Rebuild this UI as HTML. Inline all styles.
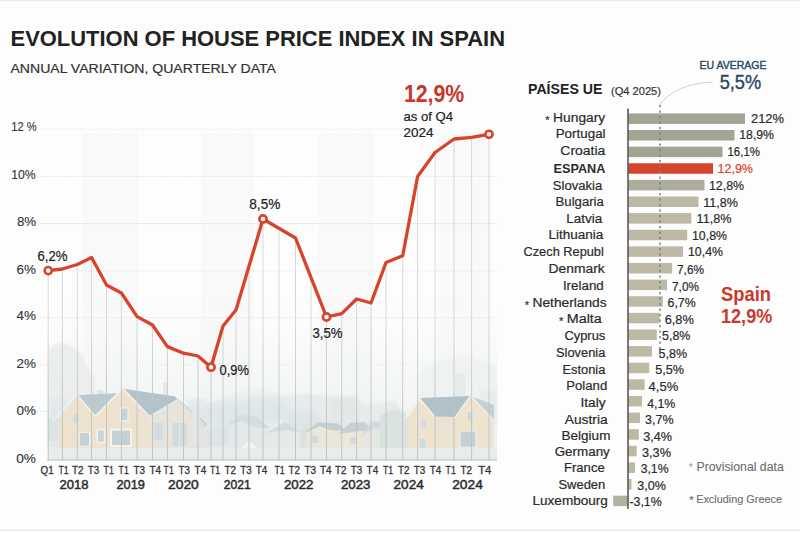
<!DOCTYPE html>
<html><head><meta charset="utf-8">
<style>
html,body{margin:0;padding:0;background:#fdfdfd;}
body{width:800px;height:533px;overflow:hidden;position:relative;}
svg{position:absolute;left:0;top:0;display:block;}
text{font-family:"Liberation Sans",sans-serif;}
</style></head><body>
<svg width="800" height="533" viewBox="0 0 800 533">
<defs>
<linearGradient id="sky" x1="0" y1="0" x2="0" y2="1">
<stop offset="0" stop-color="#f4f6f6" stop-opacity="0"/>
<stop offset="0.5" stop-color="#f1f3f3" stop-opacity="0.6"/>
<stop offset="1" stop-color="#ebefee" stop-opacity="1"/>
</linearGradient>
<linearGradient id="dl" gradientUnits="userSpaceOnUse" x1="0" y1="320" x2="0" y2="420"><stop offset="0" stop-color="#d3d6d6"/><stop offset="1" stop-color="#bcc1c1"/></linearGradient>
<filter id="mist" x="-10%" y="-10%" width="120%" height="120%"><feGaussianBlur stdDeviation="1.6"/></filter>
<filter id="soft" x="-10%" y="-10%" width="120%" height="120%"><feGaussianBlur stdDeviation="0.5"/></filter>
</defs>
<rect x="0" y="0" width="800" height="533" fill="#fdfdfd"/>
<rect x="0" y="0" width="800" height="1.2" fill="#eeeeee"/>
<rect x="0" y="529.6" width="800" height="1.4" fill="#e9e9e9"/>

<rect x="83" y="133" width="55" height="327" fill="#f9f9f9"/>
<rect x="201" y="133" width="52" height="327" fill="#f9f9f9"/>
<rect x="319" y="133" width="54" height="327" fill="#f9f9f9"/>
<rect x="437" y="133" width="54" height="327" fill="#f9f9f9"/>
<line x1="40" y1="129.2" x2="398" y2="129.2" stroke="#dedede" stroke-width="0.8" stroke-dasharray="1.5 1.5"/>
<line x1="40" y1="176.5" x2="497" y2="176.5" stroke="#dedede" stroke-width="0.8" stroke-dasharray="1.5 1.5"/>
<line x1="40" y1="223.7" x2="497" y2="223.7" stroke="#e4e4e4" stroke-width="0.9"/>
<line x1="40" y1="270.8" x2="497" y2="270.8" stroke="#dedede" stroke-width="0.8" stroke-dasharray="1.5 1.5"/>
<line x1="40" y1="317.5" x2="497" y2="317.5" stroke="#dedede" stroke-width="0.8" stroke-dasharray="1.5 1.5"/>
<line x1="40" y1="364.8" x2="497" y2="364.8" stroke="#dedede" stroke-width="0.8" stroke-dasharray="1.5 1.5"/>
<line x1="40" y1="411.5" x2="497" y2="411.5" stroke="#dedede" stroke-width="0.8" stroke-dasharray="1.5 1.5"/>
<g id="houses" opacity="1">
<rect x="48" y="300" width="449" height="160" fill="url(#sky)"/>
<g filter="url(#mist)">
<path d="M48 350 Q62 335 80 352 L95 380 L96 420 L48 420Z" fill="#eceeee"/>
<path d="M225 398 Q250 382 280 394 L300 400 L300 430 L225 430Z" fill="#edf0f0"/>
<path d="M420 372 Q450 350 480 360 L497 366 L497 400 L420 400Z" fill="#f0f2f2"/>
<path d="M48 400 L60 396 L70 402 L70 448 L48 448Z" fill="#e3e9ea"/>
<path d="M186 400 L200 398 L212 402 L225 397 L240 399 L255 396 L285 396 L300 394 L330 396 L350 397 L370 405 L395 400 L406 415 L406 448 L186 448Z" fill="#e6ebec"/>
<path d="M288 409.5 L312 409.5 L322 422 L322 448 L288 448Z" fill="#dfe6e7"/>
<path d="M332 396.5 L358 396.5 L360 448 L332 448Z" fill="#e2e8e8"/>
<path d="M200 410 L215 403 L235 405 L250 398 L275 400 L290 408 L300 420 L200 425Z" fill="#e0e7e9"/>
<path d="M300 430 L312 423 L330 422 L345 432 L360 426 L372 421 L386 430 L392 420 L402 412 L410 420 L410 448 L300 448Z" fill="#d9e1e2"/>
<path d="M308 434 L330 431 L330 447 L308 447Z" fill="#ebe5d6"/>
<path d="M345 434 L362 434 L362 447 L345 447Z" fill="#eae4d5"/>
<path d="M366 436 L384 434 L384 447 L366 447Z" fill="#e6e6de"/>
<path d="M242 447 Q249 434 257 447Z" fill="#f4f5f4"/>
<path d="M435 405 L445 398 L455 400 L460 412 L440 415Z" fill="#e6ebec"/>
<rect x="480" y="390" width="17" height="35" fill="#e7ecec"/>
<path d="M205 430 L225 424 L240 430 L240 447 L205 447Z" fill="#dde4e5"/>
</g>
<g filter="url(#soft)">
<path d="M306 448 L306 432 L318 423 L336 424 L345 431 L345 448Z" fill="#e9e6da"/>
<path d="M304 433 L318 422.5 L338 423.5 L347 431 L330 430 L320 426Z" fill="#c2ced2"/>
<path d="M340 448 L340 433 L350 424 L362 423 L372 432 L372 448Z" fill="#ece7d9"/>
<path d="M338 434 L350 423 L364 422 L374 432 L360 431Z" fill="#c6d1d5"/>
<path d="M362 448 L362 436 L374 422 L388 424 L388 448Z" fill="#e6e7e1"/>
<path d="M360 437 L374 421 L390 423 L386 430 L374 428Z" fill="#d0d9db"/>
<rect x="387" y="412" width="14" height="36" fill="#dfe5e5"/>
<rect x="391" y="408" width="9" height="6" fill="#e4e8e8"/>
<path d="M228 448 L228 425 L240 416 L258 418 L268 428 L268 448Z" fill="#e3e8e8"/>
<path d="M226 426 L240 415 L258 417 L270 428 L256 428 L242 421Z" fill="#d5dde0"/>
<path d="M268 448 L268 432 L285 424 L300 432 L300 448Z" fill="#e5e9e7"/>
<path d="M266 433 L285 422 L302 433 L286 430Z" fill="#d3dcde"/>
<path d="M242 448 Q249 436 257 448Z" fill="#f3f4f3"/>
<rect x="312" y="436" width="6" height="7" fill="#d2dadc"/>
<rect x="350" y="437" width="6" height="7" fill="#d4dcdd"/>
</g>
<rect x="48" y="419" width="14" height="22" fill="#d9e4e7"/>
<rect x="48" y="419.7" width="11" height="12" fill="#d8e3e7"/>
<rect x="97" y="390" width="6.5" height="6" fill="#e1e6e6"/>
<rect x="163" y="382.4" width="4.5" height="12" fill="#e5e9e9"/>
<path d="M149.3 416.5 L177 400.5 L205 425 L205 448 L149.3 448Z" fill="#e6e4dc"/>
<path d="M58 421 L76.9 395.2 L95 416.5 L122.7 388.8 L149.3 416.5 L149.3 448 L58 448Z" fill="#ede2cf"/>
<path d="M76.9 395.2 L118 393 L95 416.5Z" fill="#bccad0"/>
<path d="M122.7 388.8 L174.8 396.3 L177 400.5 L149.3 416.5Z" fill="#b3c3c9"/>
<path d="M174.8 396.3 L207 424 L205 427 L177 401Z" fill="#bfccd0"/>
<path d="M52 421.5 L76.9 394.6 L95 416" fill="none" stroke="#f2f1ea" stroke-width="1.6"/>
<path d="M95 416.5 L122.7 388.3 L149.5 416.5" fill="none" stroke="#f2f1ea" stroke-width="1.7"/>
<path d="M149.3 416.5 L177 400 L205 425" fill="none" stroke="#eeeeea" stroke-width="1.4"/>
<rect x="78.5" y="431.8" width="11.8" height="15" fill="#f3f1ea"/><rect x="79.8" y="433" width="9.2" height="12.6" fill="#c4d1d7"/>
<rect x="96.6" y="428.8" width="8.6" height="14.5" fill="#f4f2eb"/><rect x="98" y="430.3" width="5.8" height="11.5" fill="#cad5d9"/>
<rect x="110" y="428.5" width="22" height="18.5" fill="#f5f3ec"/><rect x="112" y="430.6" width="18" height="14.4" fill="#c3d0d5"/>
<line x1="121" y1="430.6" x2="121" y2="445" stroke="#d6dee1" stroke-width="0.8"/>
<rect x="73.7" y="414.4" width="4.5" height="8.5" fill="#d0d9dc"/>
<rect x="119.8" y="407.3" width="8.8" height="14" fill="#f3f1ea"/><rect x="121" y="408.6" width="6.4" height="11.5" fill="#c8d3d8"/>
<rect x="153.5" y="423" width="9.5" height="17" fill="#d3dbde"/>
<rect x="172.7" y="423" width="13.8" height="23" fill="#d1dadd"/>
<line x1="179.6" y1="423" x2="179.6" y2="446" stroke="#e4e9ea" stroke-width="0.9"/>
<rect x="192" y="405" width="8" height="38" fill="#e2e8e9"/>
<rect x="455" y="373.4" width="10" height="23" fill="#e6eaea"/>
<path d="M380 416 L392 410 L406 414 L406 448 L380 448Z" fill="#d9e1e1"/>
<path d="M408 417.5 L420 400.6 L434 416.6 L455.7 417 L470.7 396 L493.5 419.4 L493.5 448 L408 448Z" fill="#eee3cf"/>
<path d="M434 416.6 L455.7 417 L455.7 448 L434 448Z" fill="#ebe2d2"/>
<path d="M420 398 L470.7 396 L455.7 417 L434 416.6Z" fill="#b0c1c7"/>
<path d="M470.7 396 L494 405 L494 421 Z" fill="#c3d0d4"/>
<path d="M404 419 L420 399 L435 417" fill="none" stroke="#f1f0e8" stroke-width="1.5"/>
<path d="M454 419 L470.7 395.5 L494 421" fill="none" stroke="#f1f0e8" stroke-width="1.5"/>
<rect x="459.5" y="430.5" width="17" height="17" fill="#f2f0e8"/><rect x="460.6" y="431.6" width="14.8" height="15" fill="#c3d0d6"/>
<rect x="420" y="439" width="5.6" height="8.5" fill="#d0d9dc"/>
<rect x="421" y="419.4" width="4.6" height="8.5" fill="#d3dbdd"/>
<rect x="467.9" y="411.9" width="4.6" height="8.4" fill="#cdd7da"/>
<rect x="48" y="448" width="449" height="12" fill="#e7ede9"/>
</g>
<line x1="48.2" y1="270.6" x2="48.2" y2="460" stroke="url(#dl)" stroke-width="0.9"/>
<line x1="62.4" y1="269.0" x2="62.4" y2="460" stroke="url(#dl)" stroke-width="0.9"/>
<line x1="77.3" y1="264.5" x2="77.3" y2="460" stroke="url(#dl)" stroke-width="0.9"/>
<line x1="91.6" y1="257.5" x2="91.6" y2="460" stroke="url(#dl)" stroke-width="0.9"/>
<line x1="106.5" y1="285.0" x2="106.5" y2="460" stroke="url(#dl)" stroke-width="0.9"/>
<line x1="121.4" y1="293.0" x2="121.4" y2="460" stroke="url(#dl)" stroke-width="0.9"/>
<line x1="137.1" y1="316.6" x2="137.1" y2="460" stroke="url(#dl)" stroke-width="0.9"/>
<line x1="152.5" y1="325.0" x2="152.5" y2="460" stroke="url(#dl)" stroke-width="0.9"/>
<line x1="167.4" y1="346.6" x2="167.4" y2="460" stroke="url(#dl)" stroke-width="0.9"/>
<line x1="183.5" y1="353.2" x2="183.5" y2="460" stroke="url(#dl)" stroke-width="0.9"/>
<line x1="198" y1="356.0" x2="198" y2="460" stroke="url(#dl)" stroke-width="0.9"/>
<line x1="211" y1="367.2" x2="211" y2="460" stroke="url(#dl)" stroke-width="0.9"/>
<line x1="223" y1="326.0" x2="223" y2="460" stroke="url(#dl)" stroke-width="0.9"/>
<line x1="236" y1="310.0" x2="236" y2="460" stroke="url(#dl)" stroke-width="0.9"/>
<line x1="249" y1="266.2" x2="249" y2="460" stroke="url(#dl)" stroke-width="0.9"/>
<line x1="263" y1="219.0" x2="263" y2="460" stroke="url(#dl)" stroke-width="0.9"/>
<line x1="279" y1="228.4" x2="279" y2="460" stroke="url(#dl)" stroke-width="0.9"/>
<line x1="295.5" y1="238.0" x2="295.5" y2="460" stroke="url(#dl)" stroke-width="0.9"/>
<line x1="311" y1="277.5" x2="311" y2="460" stroke="url(#dl)" stroke-width="0.9"/>
<line x1="326.5" y1="317.0" x2="326.5" y2="460" stroke="url(#dl)" stroke-width="0.9"/>
<line x1="341.7" y1="313.7" x2="341.7" y2="460" stroke="url(#dl)" stroke-width="0.9"/>
<line x1="356.6" y1="299.0" x2="356.6" y2="460" stroke="url(#dl)" stroke-width="0.9"/>
<line x1="371" y1="303.0" x2="371" y2="460" stroke="url(#dl)" stroke-width="0.9"/>
<line x1="386" y1="262.5" x2="386" y2="460" stroke="url(#dl)" stroke-width="0.9"/>
<line x1="402.7" y1="255.8" x2="402.7" y2="460" stroke="url(#dl)" stroke-width="0.9"/>
<line x1="417.6" y1="176.5" x2="417.6" y2="460" stroke="url(#dl)" stroke-width="0.9"/>
<line x1="435" y1="152.5" x2="435" y2="460" stroke="url(#dl)" stroke-width="0.9"/>
<line x1="454" y1="139.0" x2="454" y2="460" stroke="url(#dl)" stroke-width="0.9"/>
<line x1="471.6" y1="137.4" x2="471.6" y2="460" stroke="url(#dl)" stroke-width="0.9"/>
<line x1="489" y1="134.3" x2="489" y2="460" stroke="url(#dl)" stroke-width="0.9"/>
<line x1="47" y1="460" x2="497" y2="460" stroke="#b9bcbc" stroke-width="1"/>
<polyline points="48.2,270.6 62.4,269 77.3,264.5 91.6,257.5 106.5,285 121.4,293 137.1,316.6 152.5,325 167.4,346.6 183.5,353.2 198,356 211,367.2 223,326 236,310 263,219 295.5,238 326.5,317 341.7,313.7 356.6,299 371,303 386,262.5 402.7,255.8 417.6,176.5 435,152.5 454,139 471.6,137.4 489,134.3" fill="none" stroke="#d7442c" stroke-width="3.3" stroke-linejoin="round" stroke-linecap="round"/>
<circle cx="48.2" cy="270.6" r="3.6" fill="#fff" stroke="#d7442c" stroke-width="2.6"/>
<circle cx="211" cy="367.2" r="3.6" fill="#fff" stroke="#d7442c" stroke-width="2.6"/>
<circle cx="263" cy="219" r="3.6" fill="#fff" stroke="#d7442c" stroke-width="2.6"/>
<circle cx="326.5" cy="317" r="3.6" fill="#fff" stroke="#d7442c" stroke-width="2.6"/>
<circle cx="489" cy="134.3" r="3.6" fill="#fff" stroke="#d7442c" stroke-width="2.6"/>
<text x="10.5" y="45.5" font-size="22" font-weight="700" fill="#222" text-anchor="start" textLength="494.5" lengthAdjust="spacingAndGlyphs" >EVOLUTION OF HOUSE PRICE INDEX IN SPAIN</text>
<text x="10.5" y="73.3" font-size="13" font-weight="400" fill="#333" text-anchor="start" textLength="265.4" lengthAdjust="spacingAndGlyphs" stroke="#333" stroke-width="0.2" >ANNUAL VARIATION, QUARTERLY DATA</text>
<text x="11.2" y="131" font-size="12.5" font-weight="400" fill="#333" text-anchor="start" textLength="25.5" lengthAdjust="spacingAndGlyphs" stroke="#333" stroke-width="0.1" >12 %</text>
<text x="11.2" y="178.9" font-size="12.5" font-weight="400" fill="#333" text-anchor="start" textLength="24.4" lengthAdjust="spacingAndGlyphs" stroke="#333" stroke-width="0.1" >10%</text>
<text x="16.9" y="226.2" font-size="12.5" font-weight="400" fill="#333" text-anchor="start" textLength="19.3" lengthAdjust="spacingAndGlyphs" stroke="#333" stroke-width="0.1" >8%</text>
<text x="16.5" y="274" font-size="12.5" font-weight="400" fill="#333" text-anchor="start" textLength="19.5" lengthAdjust="spacingAndGlyphs" stroke="#333" stroke-width="0.1" >6%</text>
<text x="16.5" y="319.6" font-size="12.5" font-weight="400" fill="#333" text-anchor="start" textLength="19.5" lengthAdjust="spacingAndGlyphs" stroke="#333" stroke-width="0.1" >4%</text>
<text x="16.5" y="367.5" font-size="12.5" font-weight="400" fill="#333" text-anchor="start" textLength="19.5" lengthAdjust="spacingAndGlyphs" stroke="#333" stroke-width="0.1" >2%</text>
<text x="16.5" y="415" font-size="12.5" font-weight="400" fill="#333" text-anchor="start" textLength="19.5" lengthAdjust="spacingAndGlyphs" stroke="#333" stroke-width="0.1" >0%</text>
<text x="16.2" y="462.8" font-size="12.5" font-weight="400" fill="#333" text-anchor="start" textLength="19.8" lengthAdjust="spacingAndGlyphs" stroke="#333" stroke-width="0.1" >0%</text>
<text x="40.5" y="473.7" font-size="11.3" font-weight="400" fill="#333" text-anchor="start" textLength="13.1" lengthAdjust="spacingAndGlyphs" stroke="#333" stroke-width="0.3" >Q1</text>
<text x="58.5" y="473.7" font-size="11.3" font-weight="400" fill="#333" text-anchor="start" textLength="10.2" lengthAdjust="spacingAndGlyphs" stroke="#333" stroke-width="0.3" >T1</text>
<text x="72" y="473.7" font-size="11.3" font-weight="400" fill="#333" text-anchor="start" textLength="11.5" lengthAdjust="spacingAndGlyphs" stroke="#333" stroke-width="0.3" >T2</text>
<text x="87.7" y="473.7" font-size="11.3" font-weight="400" fill="#333" text-anchor="start" textLength="11.5" lengthAdjust="spacingAndGlyphs" stroke="#333" stroke-width="0.3" >T3</text>
<text x="103.6" y="473.7" font-size="11.3" font-weight="400" fill="#333" text-anchor="start" textLength="10.2" lengthAdjust="spacingAndGlyphs" stroke="#333" stroke-width="0.3" >T1</text>
<text x="118.6" y="473.7" font-size="11.3" font-weight="400" fill="#333" text-anchor="start" textLength="10.2" lengthAdjust="spacingAndGlyphs" stroke="#333" stroke-width="0.3" >T1</text>
<text x="133.6" y="473.7" font-size="11.3" font-weight="400" fill="#333" text-anchor="start" textLength="11.5" lengthAdjust="spacingAndGlyphs" stroke="#333" stroke-width="0.3" >T3</text>
<text x="149.5" y="473.7" font-size="11.3" font-weight="400" fill="#333" text-anchor="start" textLength="11.6" lengthAdjust="spacingAndGlyphs" stroke="#333" stroke-width="0.3" >T4</text>
<text x="163.6" y="473.7" font-size="11.3" font-weight="400" fill="#333" text-anchor="start" textLength="10.2" lengthAdjust="spacingAndGlyphs" stroke="#333" stroke-width="0.3" >T1</text>
<text x="178.6" y="473.7" font-size="11.3" font-weight="400" fill="#333" text-anchor="start" textLength="11.5" lengthAdjust="spacingAndGlyphs" stroke="#333" stroke-width="0.3" >T3</text>
<text x="194.6" y="473.7" font-size="11.3" font-weight="400" fill="#333" text-anchor="start" textLength="11.6" lengthAdjust="spacingAndGlyphs" stroke="#333" stroke-width="0.3" >T4</text>
<text x="210" y="473.7" font-size="11.3" font-weight="400" fill="#333" text-anchor="start" textLength="10.2" lengthAdjust="spacingAndGlyphs" stroke="#333" stroke-width="0.3" >T1</text>
<text x="224.6" y="473.7" font-size="11.3" font-weight="400" fill="#333" text-anchor="start" textLength="11.5" lengthAdjust="spacingAndGlyphs" stroke="#333" stroke-width="0.3" >T2</text>
<text x="240.2" y="473.7" font-size="11.3" font-weight="400" fill="#333" text-anchor="start" textLength="11.5" lengthAdjust="spacingAndGlyphs" stroke="#333" stroke-width="0.3" >T3</text>
<text x="255.8" y="473.7" font-size="11.3" font-weight="400" fill="#333" text-anchor="start" textLength="11.6" lengthAdjust="spacingAndGlyphs" stroke="#333" stroke-width="0.3" >T4</text>
<text x="274.4" y="473.7" font-size="11.3" font-weight="400" fill="#333" text-anchor="start" textLength="10.2" lengthAdjust="spacingAndGlyphs" stroke="#333" stroke-width="0.3" >T1</text>
<text x="288.5" y="473.7" font-size="11.3" font-weight="400" fill="#333" text-anchor="start" textLength="11.5" lengthAdjust="spacingAndGlyphs" stroke="#333" stroke-width="0.3" >T2</text>
<text x="304.4" y="473.7" font-size="11.3" font-weight="400" fill="#333" text-anchor="start" textLength="11.5" lengthAdjust="spacingAndGlyphs" stroke="#333" stroke-width="0.3" >T3</text>
<text x="320" y="473.7" font-size="11.3" font-weight="400" fill="#333" text-anchor="start" textLength="11.6" lengthAdjust="spacingAndGlyphs" stroke="#333" stroke-width="0.3" >T4</text>
<text x="335" y="473.7" font-size="11.3" font-weight="400" fill="#333" text-anchor="start" textLength="11.5" lengthAdjust="spacingAndGlyphs" stroke="#333" stroke-width="0.3" >T2</text>
<text x="350.7" y="473.7" font-size="11.3" font-weight="400" fill="#333" text-anchor="start" textLength="11.5" lengthAdjust="spacingAndGlyphs" stroke="#333" stroke-width="0.3" >T3</text>
<text x="366.6" y="473.7" font-size="11.3" font-weight="400" fill="#333" text-anchor="start" textLength="11.6" lengthAdjust="spacingAndGlyphs" stroke="#333" stroke-width="0.3" >T4</text>
<text x="383" y="473.7" font-size="11.3" font-weight="400" fill="#333" text-anchor="start" textLength="10.2" lengthAdjust="spacingAndGlyphs" stroke="#333" stroke-width="0.3" >T1</text>
<text x="398" y="473.7" font-size="11.3" font-weight="400" fill="#333" text-anchor="start" textLength="11.5" lengthAdjust="spacingAndGlyphs" stroke="#333" stroke-width="0.3" >T2</text>
<text x="413.7" y="473.7" font-size="11.3" font-weight="400" fill="#333" text-anchor="start" textLength="11.5" lengthAdjust="spacingAndGlyphs" stroke="#333" stroke-width="0.3" >T3</text>
<text x="429.7" y="473.7" font-size="11.3" font-weight="400" fill="#333" text-anchor="start" textLength="11.6" lengthAdjust="spacingAndGlyphs" stroke="#333" stroke-width="0.3" >T4</text>
<text x="445.6" y="473.7" font-size="11.3" font-weight="400" fill="#333" text-anchor="start" textLength="10.2" lengthAdjust="spacingAndGlyphs" stroke="#333" stroke-width="0.3" >T1</text>
<text x="460.6" y="473.7" font-size="11.3" font-weight="400" fill="#333" text-anchor="start" textLength="11.5" lengthAdjust="spacingAndGlyphs" stroke="#333" stroke-width="0.3" >T2</text>
<text x="478.2" y="473.7" font-size="11.3" font-weight="400" fill="#333" text-anchor="start" textLength="13.2" lengthAdjust="spacingAndGlyphs" stroke="#333" stroke-width="0.3" >T4</text>
<text x="59.4" y="489.2" font-size="12.5" font-weight="400" fill="#2b2b2b" text-anchor="start" textLength="29.1" lengthAdjust="spacingAndGlyphs" stroke="#2b2b2b" stroke-width="0.45" >2018</text>
<text x="116.5" y="489.2" font-size="12.5" font-weight="400" fill="#2b2b2b" text-anchor="start" textLength="28.5" lengthAdjust="spacingAndGlyphs" stroke="#2b2b2b" stroke-width="0.45" >2019</text>
<text x="168" y="489.2" font-size="12.5" font-weight="400" fill="#2b2b2b" text-anchor="start" textLength="30.8" lengthAdjust="spacingAndGlyphs" stroke="#2b2b2b" stroke-width="0.45" >2020</text>
<text x="223.7" y="489.2" font-size="12.5" font-weight="400" fill="#2b2b2b" text-anchor="start" textLength="27.0" lengthAdjust="spacingAndGlyphs" stroke="#2b2b2b" stroke-width="0.45" >2021</text>
<text x="284" y="489.2" font-size="12.5" font-weight="400" fill="#2b2b2b" text-anchor="start" textLength="29.5" lengthAdjust="spacingAndGlyphs" stroke="#2b2b2b" stroke-width="0.45" >2022</text>
<text x="341" y="489.2" font-size="12.5" font-weight="400" fill="#2b2b2b" text-anchor="start" textLength="29.5" lengthAdjust="spacingAndGlyphs" stroke="#2b2b2b" stroke-width="0.45" >2023</text>
<text x="393.6" y="489.2" font-size="12.5" font-weight="400" fill="#2b2b2b" text-anchor="start" textLength="30.1" lengthAdjust="spacingAndGlyphs" stroke="#2b2b2b" stroke-width="0.45" >2024</text>
<text x="452.2" y="489.2" font-size="12.5" font-weight="400" fill="#2b2b2b" text-anchor="start" textLength="30.6" lengthAdjust="spacingAndGlyphs" stroke="#2b2b2b" stroke-width="0.45" >2024</text>
<text x="37.5" y="260.5" font-size="13.8" font-weight="400" fill="#222" text-anchor="start" textLength="30" lengthAdjust="spacingAndGlyphs" stroke="#222" stroke-width="0.2" >6,2%</text>
<text x="249.3" y="209.2" font-size="13.8" font-weight="400" fill="#222" text-anchor="start" textLength="31" lengthAdjust="spacingAndGlyphs" stroke="#222" stroke-width="0.2" >8,5%</text>
<text x="219.6" y="375" font-size="13.8" font-weight="400" fill="#222" text-anchor="start" textLength="29.4" lengthAdjust="spacingAndGlyphs" stroke="#222" stroke-width="0.2" >0,9%</text>
<text x="312.5" y="338.2" font-size="13.8" font-weight="400" fill="#222" text-anchor="start" textLength="30" lengthAdjust="spacingAndGlyphs" stroke="#222" stroke-width="0.2" >3,5%</text>
<text x="403.9" y="101.8" font-size="23.6" font-weight="700" fill="#c8352b" text-anchor="start" textLength="60.3" lengthAdjust="spacingAndGlyphs" >12,9%</text>
<text x="403.4" y="121.1" font-size="13.2" font-weight="400" fill="#222" text-anchor="start" textLength="49.6" lengthAdjust="spacingAndGlyphs" stroke="#222" stroke-width="0.2" >as of Q4</text>
<text x="403.4" y="137" font-size="13.2" font-weight="400" fill="#222" text-anchor="start" textLength="30" lengthAdjust="spacingAndGlyphs" stroke="#222" stroke-width="0.2" >2024</text>
<text x="528" y="94" font-size="14" font-weight="700" fill="#222" text-anchor="start" textLength="74.4" lengthAdjust="spacingAndGlyphs" >PAÍSES UE</text>
<text x="611" y="94.6" font-size="11.5" font-weight="400" fill="#333" text-anchor="start" textLength="50" lengthAdjust="spacingAndGlyphs" stroke="#333" stroke-width="0.2" >(Q4 2025)</text>
<text x="699.5" y="69.3" font-size="10.2" font-weight="400" fill="#2a4862" text-anchor="start" textLength="67" lengthAdjust="spacingAndGlyphs" stroke="#2a4862" stroke-width="0.4" >EU AVERAGE</text>
<text x="719.7" y="88.5" font-size="19.5" font-weight="400" fill="#274862" text-anchor="start" textLength="41.5" lengthAdjust="spacingAndGlyphs" stroke="#274862" stroke-width="0.35" >5,5%</text>
<path d="M712.7 82 Q675 84 659.5 105" fill="none" stroke="#c9c9c9" stroke-width="0.9"/>
<rect x="628" y="113.40" width="117.0" height="10.5" fill="#a4a496"/>
<text x="553.1" y="121.90" font-size="12.5" font-weight="400" fill="#2b2b2b" text-anchor="start" textLength="52.1" lengthAdjust="spacingAndGlyphs" stroke="#2b2b2b" stroke-width="0.2" >Hungary</text>
<text x="545.3000000000001" y="124.30" font-size="11" font-weight="400" fill="#333" text-anchor="start" stroke="#333" stroke-width="0.2" >*</text>
<text x="751" y="122.70" font-size="13" font-weight="400" fill="#2b2b2b" text-anchor="start" textLength="33" lengthAdjust="spacingAndGlyphs" stroke="#2b2b2b" stroke-width="0.2" >212%</text>
<rect x="628" y="130.02" width="106.5" height="10.5" fill="#a4a496"/>
<text x="555.7" y="138.40" font-size="12.5" font-weight="400" fill="#2b2b2b" text-anchor="start" textLength="49.9" lengthAdjust="spacingAndGlyphs" stroke="#2b2b2b" stroke-width="0.2" >Portugal</text>
<text x="739.3" y="139.20" font-size="13" font-weight="400" fill="#2b2b2b" text-anchor="start" textLength="34.7" lengthAdjust="spacingAndGlyphs" stroke="#2b2b2b" stroke-width="0.2" >18,9%</text>
<rect x="628" y="146.64" width="94.5" height="10.5" fill="#a4a496"/>
<text x="560.3" y="155.20" font-size="12.5" font-weight="400" fill="#2b2b2b" text-anchor="start" textLength="45.0" lengthAdjust="spacingAndGlyphs" stroke="#2b2b2b" stroke-width="0.2" >Croatia</text>
<text x="727.5" y="156.00" font-size="13" font-weight="400" fill="#2b2b2b" text-anchor="start" textLength="32.5" lengthAdjust="spacingAndGlyphs" stroke="#2b2b2b" stroke-width="0.2" >16,1%</text>
<rect x="628" y="163.26" width="85.0" height="10.5" fill="#d7442c"/>
<text x="553.5" y="172.60" font-size="12.5" font-weight="700" fill="#2b2b2b" text-anchor="start" textLength="51.8" lengthAdjust="spacingAndGlyphs" >ESPANA</text>
<text x="717.5" y="173.40" font-size="13" font-weight="400" fill="#d7442c" text-anchor="start" textLength="35.5" lengthAdjust="spacingAndGlyphs" stroke="#d7442c" stroke-width="0.2" >12,9%</text>
<rect x="628" y="179.88" width="76.5" height="10.5" fill="#aeac9d"/>
<text x="552.8" y="189.50" font-size="12.5" font-weight="400" fill="#2b2b2b" text-anchor="start" textLength="49.5" lengthAdjust="spacingAndGlyphs" stroke="#2b2b2b" stroke-width="0.2" >Slovakia</text>
<text x="709" y="190.30" font-size="13" font-weight="400" fill="#2b2b2b" text-anchor="start" textLength="35" lengthAdjust="spacingAndGlyphs" stroke="#2b2b2b" stroke-width="0.2" >12,8%</text>
<rect x="628" y="196.50" width="70.5" height="10.5" fill="#beb9a5"/>
<text x="555.6" y="206.00" font-size="12.5" font-weight="400" fill="#2b2b2b" text-anchor="start" textLength="48.2" lengthAdjust="spacingAndGlyphs" stroke="#2b2b2b" stroke-width="0.2" >Bulgaria</text>
<text x="703.2" y="206.80" font-size="13" font-weight="400" fill="#2b2b2b" text-anchor="start" textLength="34.8" lengthAdjust="spacingAndGlyphs" stroke="#2b2b2b" stroke-width="0.2" >11,8%</text>
<rect x="628" y="213.12" width="63.4" height="10.5" fill="#beb9a5"/>
<text x="566.3" y="222.50" font-size="12.5" font-weight="400" fill="#2b2b2b" text-anchor="start" textLength="36.0" lengthAdjust="spacingAndGlyphs" stroke="#2b2b2b" stroke-width="0.2" >Latvia</text>
<text x="696.6" y="223.30" font-size="13" font-weight="400" fill="#2b2b2b" text-anchor="start" textLength="34.9" lengthAdjust="spacingAndGlyphs" stroke="#2b2b2b" stroke-width="0.2" >11,8%</text>
<rect x="628" y="229.74" width="59.2" height="10.5" fill="#beb9a5"/>
<text x="548.5" y="238.80" font-size="12.5" font-weight="400" fill="#2b2b2b" text-anchor="start" textLength="54.9" lengthAdjust="spacingAndGlyphs" stroke="#2b2b2b" stroke-width="0.2" >Lithuania</text>
<text x="692" y="239.60" font-size="13" font-weight="400" fill="#2b2b2b" text-anchor="start" textLength="35" lengthAdjust="spacingAndGlyphs" stroke="#2b2b2b" stroke-width="0.2" >10,8%</text>
<rect x="628" y="246.36" width="55.1" height="10.5" fill="#beb9a5"/>
<text x="523.5" y="255.60" font-size="12.5" font-weight="400" fill="#2b2b2b" text-anchor="start" textLength="80.3" lengthAdjust="spacingAndGlyphs" stroke="#2b2b2b" stroke-width="0.2" >Czech Republ</text>
<text x="688" y="256.40" font-size="13" font-weight="400" fill="#2b2b2b" text-anchor="start" textLength="35" lengthAdjust="spacingAndGlyphs" stroke="#2b2b2b" stroke-width="0.2" >10,4%</text>
<rect x="628" y="262.98" width="44.2" height="10.5" fill="#beb9a5"/>
<text x="548.5" y="273.20" font-size="12.5" font-weight="400" fill="#2b2b2b" text-anchor="start" textLength="56.2" lengthAdjust="spacingAndGlyphs" stroke="#2b2b2b" stroke-width="0.2" >Denmark</text>
<text x="677" y="274.00" font-size="13" font-weight="400" fill="#2b2b2b" text-anchor="start" textLength="27" lengthAdjust="spacingAndGlyphs" stroke="#2b2b2b" stroke-width="0.2" >7,6%</text>
<rect x="628" y="279.60" width="39.0" height="10.5" fill="#beb9a5"/>
<text x="562.9" y="289.80" font-size="12.5" font-weight="400" fill="#2b2b2b" text-anchor="start" textLength="40.9" lengthAdjust="spacingAndGlyphs" stroke="#2b2b2b" stroke-width="0.2" >Ireland</text>
<text x="672" y="290.60" font-size="13" font-weight="400" fill="#2b2b2b" text-anchor="start" textLength="27" lengthAdjust="spacingAndGlyphs" stroke="#2b2b2b" stroke-width="0.2" >7,0%</text>
<rect x="628" y="296.22" width="34.8" height="10.5" fill="#beb9a5"/>
<text x="532.5" y="306.60" font-size="12.5" font-weight="400" fill="#2b2b2b" text-anchor="start" textLength="74.1" lengthAdjust="spacingAndGlyphs" stroke="#2b2b2b" stroke-width="0.2" >Netherlands</text>
<text x="524.7" y="309.00" font-size="11" font-weight="400" fill="#333" text-anchor="start" stroke="#333" stroke-width="0.2" >*</text>
<text x="667.5" y="307.40" font-size="13" font-weight="400" fill="#2b2b2b" text-anchor="start" textLength="28.2" lengthAdjust="spacingAndGlyphs" stroke="#2b2b2b" stroke-width="0.2" >6,7%</text>
<rect x="628" y="312.84" width="31.7" height="10.5" fill="#beb9a5"/>
<text x="566.7" y="322.90" font-size="12.5" font-weight="400" fill="#2b2b2b" text-anchor="start" textLength="35.2" lengthAdjust="spacingAndGlyphs" stroke="#2b2b2b" stroke-width="0.2" >Malta</text>
<text x="558.9000000000001" y="325.30" font-size="11" font-weight="400" fill="#333" text-anchor="start" stroke="#333" stroke-width="0.2" >*</text>
<text x="664.7" y="323.70" font-size="13" font-weight="400" fill="#2b2b2b" text-anchor="start" textLength="29.1" lengthAdjust="spacingAndGlyphs" stroke="#2b2b2b" stroke-width="0.2" >6,8%</text>
<rect x="628" y="329.46" width="28.8" height="10.5" fill="#beb9a5"/>
<text x="564.4" y="339.60" font-size="12.5" font-weight="400" fill="#2b2b2b" text-anchor="start" textLength="40.9" lengthAdjust="spacingAndGlyphs" stroke="#2b2b2b" stroke-width="0.2" >Cyprus</text>
<text x="662" y="340.40" font-size="13" font-weight="400" fill="#2b2b2b" text-anchor="start" textLength="28.4" lengthAdjust="spacingAndGlyphs" stroke="#2b2b2b" stroke-width="0.2" >5,8%</text>
<rect x="628" y="346.08" width="24.0" height="10.5" fill="#beb9a5"/>
<text x="556" y="356.70" font-size="12.5" font-weight="400" fill="#2b2b2b" text-anchor="start" textLength="49.3" lengthAdjust="spacingAndGlyphs" stroke="#2b2b2b" stroke-width="0.2" >Slovenia</text>
<text x="658.5" y="357.50" font-size="13" font-weight="400" fill="#2b2b2b" text-anchor="start" textLength="28.5" lengthAdjust="spacingAndGlyphs" stroke="#2b2b2b" stroke-width="0.2" >5,8%</text>
<rect x="628" y="362.70" width="21.2" height="10.5" fill="#beb9a5"/>
<text x="562.5" y="373.60" font-size="12.5" font-weight="400" fill="#2b2b2b" text-anchor="start" textLength="42.8" lengthAdjust="spacingAndGlyphs" stroke="#2b2b2b" stroke-width="0.2" >Estonia</text>
<text x="655.3" y="374.40" font-size="13" font-weight="400" fill="#2b2b2b" text-anchor="start" textLength="28.7" lengthAdjust="spacingAndGlyphs" stroke="#2b2b2b" stroke-width="0.2" >5,5%</text>
<rect x="628" y="379.32" width="16.6" height="10.5" fill="#beb9a5"/>
<text x="566.3" y="390.30" font-size="12.5" font-weight="400" fill="#2b2b2b" text-anchor="start" textLength="40.9" lengthAdjust="spacingAndGlyphs" stroke="#2b2b2b" stroke-width="0.2" >Poland</text>
<text x="648.6" y="391.10" font-size="13" font-weight="400" fill="#2b2b2b" text-anchor="start" textLength="29.6" lengthAdjust="spacingAndGlyphs" stroke="#2b2b2b" stroke-width="0.2" >4,5%</text>
<rect x="628" y="395.94" width="14.0" height="10.5" fill="#beb9a5"/>
<text x="580.4" y="407.00" font-size="12.5" font-weight="400" fill="#2b2b2b" text-anchor="start" textLength="25.3" lengthAdjust="spacingAndGlyphs" stroke="#2b2b2b" stroke-width="0.2" >Italy</text>
<text x="647.2" y="407.80" font-size="13" font-weight="400" fill="#2b2b2b" text-anchor="start" textLength="28.1" lengthAdjust="spacingAndGlyphs" stroke="#2b2b2b" stroke-width="0.2" >4,1%</text>
<rect x="628" y="412.56" width="12.0" height="10.5" fill="#beb9a5"/>
<text x="564.8" y="423.50" font-size="12.5" font-weight="400" fill="#2b2b2b" text-anchor="start" textLength="42.8" lengthAdjust="spacingAndGlyphs" stroke="#2b2b2b" stroke-width="0.2" >Austria</text>
<text x="645.1" y="424.30" font-size="13" font-weight="400" fill="#2b2b2b" text-anchor="start" textLength="28.4" lengthAdjust="spacingAndGlyphs" stroke="#2b2b2b" stroke-width="0.2" >3,7%</text>
<rect x="628" y="429.18" width="10.8" height="10.5" fill="#beb9a5"/>
<text x="561.6" y="440.20" font-size="12.5" font-weight="400" fill="#2b2b2b" text-anchor="start" textLength="48.8" lengthAdjust="spacingAndGlyphs" stroke="#2b2b2b" stroke-width="0.2" >Belgium</text>
<text x="643.3" y="441.00" font-size="13" font-weight="400" fill="#2b2b2b" text-anchor="start" textLength="28.7" lengthAdjust="spacingAndGlyphs" stroke="#2b2b2b" stroke-width="0.2" >3,4%</text>
<rect x="628" y="445.80" width="8.7" height="10.5" fill="#beb9a5"/>
<text x="554.7" y="456.30" font-size="12.5" font-weight="400" fill="#2b2b2b" text-anchor="start" textLength="55.1" lengthAdjust="spacingAndGlyphs" stroke="#2b2b2b" stroke-width="0.2" >Germany</text>
<text x="642" y="457.10" font-size="13" font-weight="400" fill="#2b2b2b" text-anchor="start" textLength="29" lengthAdjust="spacingAndGlyphs" stroke="#2b2b2b" stroke-width="0.2" >3,3%</text>
<rect x="628" y="462.42" width="7.0" height="10.5" fill="#beb9a5"/>
<text x="564" y="472.40" font-size="12.5" font-weight="400" fill="#2b2b2b" text-anchor="start" textLength="40.7" lengthAdjust="spacingAndGlyphs" stroke="#2b2b2b" stroke-width="0.2" >France</text>
<text x="640.7" y="473.20" font-size="13" font-weight="400" fill="#2b2b2b" text-anchor="start" textLength="27.8" lengthAdjust="spacingAndGlyphs" stroke="#2b2b2b" stroke-width="0.2" >3,1%</text>
<rect x="628" y="479.04" width="3.5" height="10.5" fill="#beb9a5"/>
<text x="558.4" y="489.00" font-size="12.5" font-weight="400" fill="#2b2b2b" text-anchor="start" textLength="46.9" lengthAdjust="spacingAndGlyphs" stroke="#2b2b2b" stroke-width="0.2" >Sweden</text>
<text x="637.3" y="489.80" font-size="13" font-weight="400" fill="#2b2b2b" text-anchor="start" textLength="28.7" lengthAdjust="spacingAndGlyphs" stroke="#2b2b2b" stroke-width="0.2" >3,0%</text>
<rect x="613.2" y="495.66" width="14.8" height="10.5" fill="#b3b19f"/>
<text x="532.5" y="505.00" font-size="12.5" font-weight="400" fill="#2b2b2b" text-anchor="start" textLength="75.4" lengthAdjust="spacingAndGlyphs" stroke="#2b2b2b" stroke-width="0.2" >Luxembourg</text>
<text x="629.4" y="505.80" font-size="13" font-weight="400" fill="#2b2b2b" text-anchor="start" textLength="32.3" lengthAdjust="spacingAndGlyphs" stroke="#2b2b2b" stroke-width="0.2" >-3,1%</text>
<line x1="628" y1="108.5" x2="628" y2="509" stroke="#5a5a5a" stroke-width="1.6"/>
<line x1="660" y1="105" x2="660" y2="358" stroke="#5b8a93" stroke-width="1.5" stroke-dasharray="2.2 3.3"/>
<text x="721" y="300.9" font-size="20" font-weight="700" fill="#c93a2b" text-anchor="start" textLength="50" lengthAdjust="spacingAndGlyphs" >Spain</text>
<text x="721" y="323.2" font-size="20" font-weight="700" fill="#c93a2b" text-anchor="start" textLength="51.3" lengthAdjust="spacingAndGlyphs" >12,9%</text>
<text x="688.8" y="470.5" font-size="10" font-weight="400" fill="#aaa" text-anchor="start" stroke="#aaa" stroke-width="0.2" >*</text>
<text x="696.5" y="471.4" font-size="12" font-weight="400" fill="#6c6c6c" text-anchor="start" textLength="87.2" lengthAdjust="spacingAndGlyphs" stroke="#6c6c6c" stroke-width="0.1" >Provisional data</text>
<text x="689.5" y="503.5" font-size="10" font-weight="400" fill="#666" text-anchor="start" stroke="#666" stroke-width="0.2" >*</text>
<text x="696.2" y="503" font-size="11" font-weight="400" fill="#6c6c6c" text-anchor="start" textLength="85.8" lengthAdjust="spacingAndGlyphs" stroke="#6c6c6c" stroke-width="0.1" >Excluding Greece</text>
</svg></body></html>
